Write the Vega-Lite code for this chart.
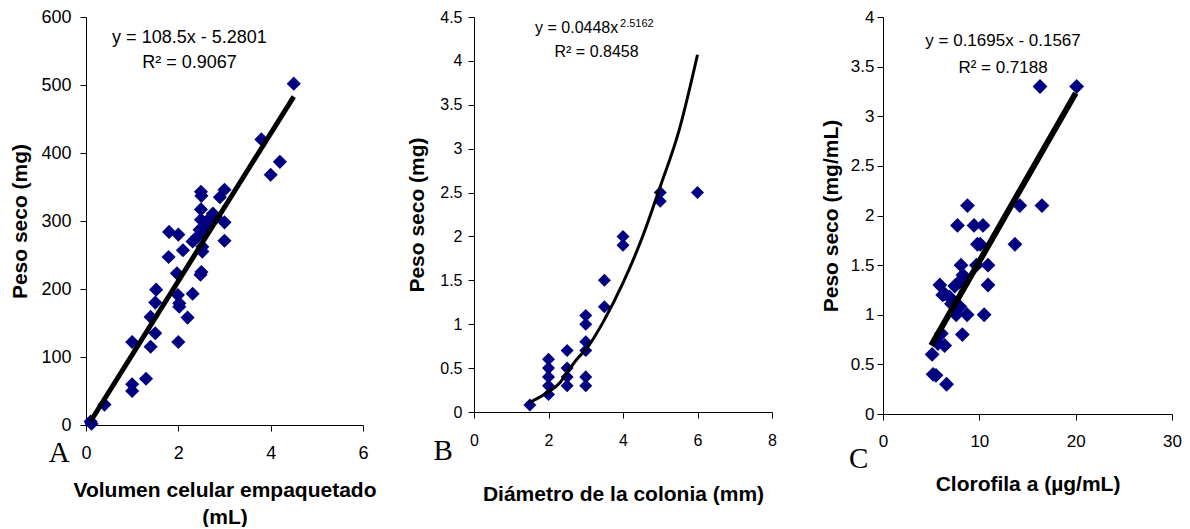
{
  "$schema": "https://vega.github.io/schema/vega-lite/v6.json",
  "padding": {"left": 9, "top": 8, "right": 4, "bottom": 0},
  "autosize": {"type": "pad"},
  "bounds": "flush",
  "spacing": 111,
  "background": "white",
  "config": {
    "view": {"stroke": null},
    "axis": {
      "grid": false,
      "domainColor": "#000000",
      "tickColor": "#000000",
      "tickSize": 6,
      "labelFont": "Liberation Sans",
      "titleFont": "Liberation Sans",
      "labelColor": "#000000",
      "titleColor": "#000000",
      "titleFontWeight": "bold",
      "titleFontSize": 21,
      "labelFlush": false,
      "labelOverlap": false,
      "labelBound": false
    },
    "text": {"font": "Liberation Sans", "color": "#000000"}
  },
  "datasets": {
    "a_pts": [
      {"x": 0.1, "y": 5}, {"x": 0.12, "y": 2}, {"x": 0.4, "y": 30}, {"x": 1.0, "y": 122}, {"x": 1.0, "y": 60},
      {"x": 1.0, "y": 50}, {"x": 1.3, "y": 68}, {"x": 1.4, "y": 115}, {"x": 1.4, "y": 159}, {"x": 1.5, "y": 135},
      {"x": 1.5, "y": 180}, {"x": 1.52, "y": 199}, {"x": 1.8, "y": 284}, {"x": 1.79, "y": 247}, {"x": 2.0, "y": 280},
      {"x": 2.0, "y": 122}, {"x": 1.97, "y": 223}, {"x": 1.99, "y": 191}, {"x": 2.02, "y": 179}, {"x": 2.02, "y": 174},
      {"x": 2.1, "y": 257}, {"x": 2.2, "y": 158}, {"x": 2.31, "y": 193}, {"x": 2.31, "y": 270}, {"x": 2.4, "y": 276},
      {"x": 2.46, "y": 287}, {"x": 2.49, "y": 343}, {"x": 2.5, "y": 337}, {"x": 2.49, "y": 317}, {"x": 2.49, "y": 302},
      {"x": 2.5, "y": 282}, {"x": 2.52, "y": 262}, {"x": 2.52, "y": 255}, {"x": 2.48, "y": 221}, {"x": 2.5, "y": 225},
      {"x": 2.6, "y": 292}, {"x": 2.62, "y": 300}, {"x": 2.75, "y": 311}, {"x": 2.82, "y": 305}, {"x": 2.9, "y": 335},
      {"x": 3.0, "y": 346}, {"x": 3.0, "y": 298}, {"x": 3.0, "y": 271}, {"x": 3.8, "y": 420}, {"x": 4.0, "y": 368},
      {"x": 4.2, "y": 387}, {"x": 4.5, "y": 502}
    ],
    "a_fit": [{"x": 0.1, "y": 5.57}, {"x": 4.5, "y": 482.97}],
    "a_txt": [
      {"x": 2.24, "y": 562, "t": "y = 108.5x - 5.2801"},
      {"x": 2.24, "y": 525, "t": "R² = 0.9067"}
    ],
    "a_lbl": [{"x": -0.58, "y": -54, "t": "A"}],
    "b_pts": [
      {"x": 1.5, "y": 0.08}, {"x": 2, "y": 0.6}, {"x": 2, "y": 0.5}, {"x": 2, "y": 0.4}, {"x": 2, "y": 0.3},
      {"x": 2, "y": 0.2}, {"x": 2.5, "y": 0.7}, {"x": 2.5, "y": 0.5}, {"x": 2.5, "y": 0.4}, {"x": 2.5, "y": 0.3},
      {"x": 3, "y": 1.1}, {"x": 3, "y": 1.0}, {"x": 3, "y": 0.8}, {"x": 3, "y": 0.7}, {"x": 3, "y": 0.4},
      {"x": 3, "y": 0.3}, {"x": 3.5, "y": 1.5}, {"x": 3.5, "y": 1.2}, {"x": 4, "y": 2.0}, {"x": 4, "y": 1.9},
      {"x": 5, "y": 2.5}, {"x": 5, "y": 2.4}, {"x": 6, "y": 2.5}
    ],
    "b_fit": [
      {"x": 1.5, "y": 0.11}, {"x": 2, "y": 0.23}, {"x": 2.3, "y": 0.33}, {"x": 2.5, "y": 0.45}, {"x": 2.8, "y": 0.62},
      {"x": 3, "y": 0.71}, {"x": 3.5, "y": 1.05}, {"x": 4, "y": 1.47}, {"x": 4.5, "y": 1.97}, {"x": 5, "y": 2.57},
      {"x": 5.5, "y": 3.2}, {"x": 6, "y": 4.07}
    ],
    "b_eq": [{"x": 1.64, "y": 4.32, "t": "y = 0.0448x"}],
    "b_r2": [{"x": 3.29, "y": 4.05, "t": "R² = 0.8458"}],
    "b_sup": [{"x": 3.92, "y": 4.39, "t": "2.5162"}],
    "b_lbl": [{"x": -0.83, "y": -0.55, "t": "B"}],
    "c_pts": [
      {"x": 5.1, "y": 0.6}, {"x": 5.2, "y": 0.4}, {"x": 5.5, "y": 0.39}, {"x": 6.6, "y": 0.3}, {"x": 5.9, "y": 1.3},
      {"x": 6.2, "y": 1.2}, {"x": 6.4, "y": 1.21}, {"x": 6.9, "y": 1.18}, {"x": 7.1, "y": 1.11}, {"x": 7.45, "y": 1.29},
      {"x": 7.6, "y": 1.0}, {"x": 7.9, "y": 1.33}, {"x": 8.0, "y": 1.08}, {"x": 8.1, "y": 1.5}, {"x": 8.3, "y": 1.4},
      {"x": 8.24, "y": 0.8}, {"x": 6.06, "y": 0.81}, {"x": 5.7, "y": 0.71}, {"x": 6.4, "y": 0.69}, {"x": 7.73, "y": 1.9},
      {"x": 8.77, "y": 2.1}, {"x": 9.45, "y": 1.9}, {"x": 10.38, "y": 1.9}, {"x": 9.8, "y": 1.71}, {"x": 10.1, "y": 1.71},
      {"x": 9.7, "y": 1.5}, {"x": 10.9, "y": 1.5}, {"x": 10.9, "y": 1.3}, {"x": 8.73, "y": 1.0}, {"x": 10.5, "y": 1.0},
      {"x": 13.7, "y": 1.71}, {"x": 14.2, "y": 2.1}, {"x": 16.5, "y": 2.1}, {"x": 16.3, "y": 3.3}, {"x": 20.1, "y": 3.3}
    ],
    "c_fit": [{"x": 5.0, "y": 0.691}, {"x": 20.0, "y": 3.233}],
    "c_txt": [
      {"x": 12.46, "y": 3.71, "t": "y = 0.1695x - 0.1567"},
      {"x": 12.46, "y": 3.44, "t": "R² = 0.7188"}
    ],
    "c_lbl": [{"x": -2.52, "y": -0.54, "t": "C"}]
  },
  "hconcat": [
    {
      "width": 277,
      "height": 408,
      "encoding": {
        "x": {"field": "x", "type": "quantitative",
              "scale": {"domain": [0, 6], "nice": false, "zero": false},
              "axis": {"title": ["Volumen celular empaquetado", "(mL)"], "values": [0, 2, 4, 6],
                       "labelFontSize": 18, "labelPadding": 13, "titlePadding": 17, "titleLineHeight": 27}},
        "y": {"field": "y", "type": "quantitative",
              "scale": {"domain": [0, 600], "nice": false, "zero": false},
              "axis": {"title": "Peso seco (mg)", "values": [0, 100, 200, 300, 400, 500, 600],
                       "labelFontSize": 18, "labelPadding": 9, "titlePadding": 10}}
      },
      "layer": [
        {"data": {"name": "a_pts"}, "mark": {"type": "point", "shape": "diamond", "filled": true, "color": "#000080", "opacity": 1, "size": 200}},
        {"data": {"name": "a_fit"}, "mark": {"type": "line", "color": "#000000", "strokeWidth": 5}},
        {"data": {"name": "a_txt"}, "mark": {"type": "text", "fontSize": 18, "align": "center", "baseline": "alphabetic"}, "encoding": {"text": {"field": "t"}}},
        {"data": {"name": "a_lbl"}, "mark": {"type": "text", "font": "Liberation Serif", "fontSize": 29, "align": "center", "baseline": "alphabetic"}, "encoding": {"text": {"field": "t"}}}
      ]
    },
    {
      "width": 298,
      "height": 395,
      "encoding": {
        "x": {"field": "x", "type": "quantitative",
              "scale": {"domain": [0, 8], "nice": false, "zero": false},
              "axis": {"title": "Diámetro de la colonia (mm)", "values": [0, 2, 4, 6, 8],
                       "labelFontSize": 16, "labelPadding": 14, "titlePadding": 35}},
        "y": {"field": "y", "type": "quantitative",
              "scale": {"domain": [0, 4.5], "nice": false, "zero": false},
              "axis": {"title": "Peso seco (mg)", "values": [0, 0.5, 1, 1.5, 2, 2.5, 3, 3.5, 4, 4.5], "format": ".1~f",
                       "labelFontSize": 16, "labelPadding": 6, "titlePadding": 12}}
      },
      "layer": [
        {"data": {"name": "b_pts"}, "mark": {"type": "point", "shape": "diamond", "filled": true, "color": "#000080", "opacity": 1, "size": 170}},
        {"data": {"name": "b_fit"}, "mark": {"type": "line", "color": "#000000", "strokeWidth": 3, "interpolate": "monotone"}},
        {"data": {"name": "b_eq"}, "mark": {"type": "text", "fontSize": 16, "align": "left", "baseline": "alphabetic"}, "encoding": {"text": {"field": "t"}}},
        {"data": {"name": "b_r2"}, "mark": {"type": "text", "fontSize": 16, "align": "center", "baseline": "alphabetic"}, "encoding": {"text": {"field": "t"}}},
        {"data": {"name": "b_sup"}, "mark": {"type": "text", "fontSize": 11, "align": "left", "baseline": "alphabetic"}, "encoding": {"text": {"field": "t"}}},
        {"data": {"name": "b_lbl"}, "mark": {"type": "text", "font": "Liberation Serif", "fontSize": 29, "align": "center", "baseline": "alphabetic"}, "encoding": {"text": {"field": "t"}}}
      ]
    },
    {
      "width": 289,
      "height": 397,
      "encoding": {
        "x": {"field": "x", "type": "quantitative",
              "scale": {"domain": [0, 30], "nice": false, "zero": false},
              "axis": {"title": "Clorofila a (µg/mL)", "values": [0, 10, 20, 30],
                       "labelFontSize": 17, "labelPadding": 13, "titlePadding": 24}},
        "y": {"field": "y", "type": "quantitative",
              "scale": {"domain": [0, 4], "nice": false, "zero": false},
              "axis": {"title": "Peso seco (mg/mL)", "values": [0, 0.5, 1, 1.5, 2, 2.5, 3, 3.5, 4], "format": ".1~f",
                       "labelFontSize": 17, "labelPadding": 3, "titlePadding": 9}}
      },
      "layer": [
        {"data": {"name": "c_pts"}, "mark": {"type": "point", "shape": "diamond", "filled": true, "color": "#000080", "opacity": 1, "size": 220}},
        {"data": {"name": "c_fit"}, "mark": {"type": "line", "color": "#000000", "strokeWidth": 6}},
        {"data": {"name": "c_txt"}, "mark": {"type": "text", "fontSize": 17, "align": "center", "baseline": "alphabetic"}, "encoding": {"text": {"field": "t"}}},
        {"data": {"name": "c_lbl"}, "mark": {"type": "text", "font": "Liberation Serif", "fontSize": 29, "align": "center", "baseline": "alphabetic"}, "encoding": {"text": {"field": "t"}}}
      ]
    }
  ]
}
